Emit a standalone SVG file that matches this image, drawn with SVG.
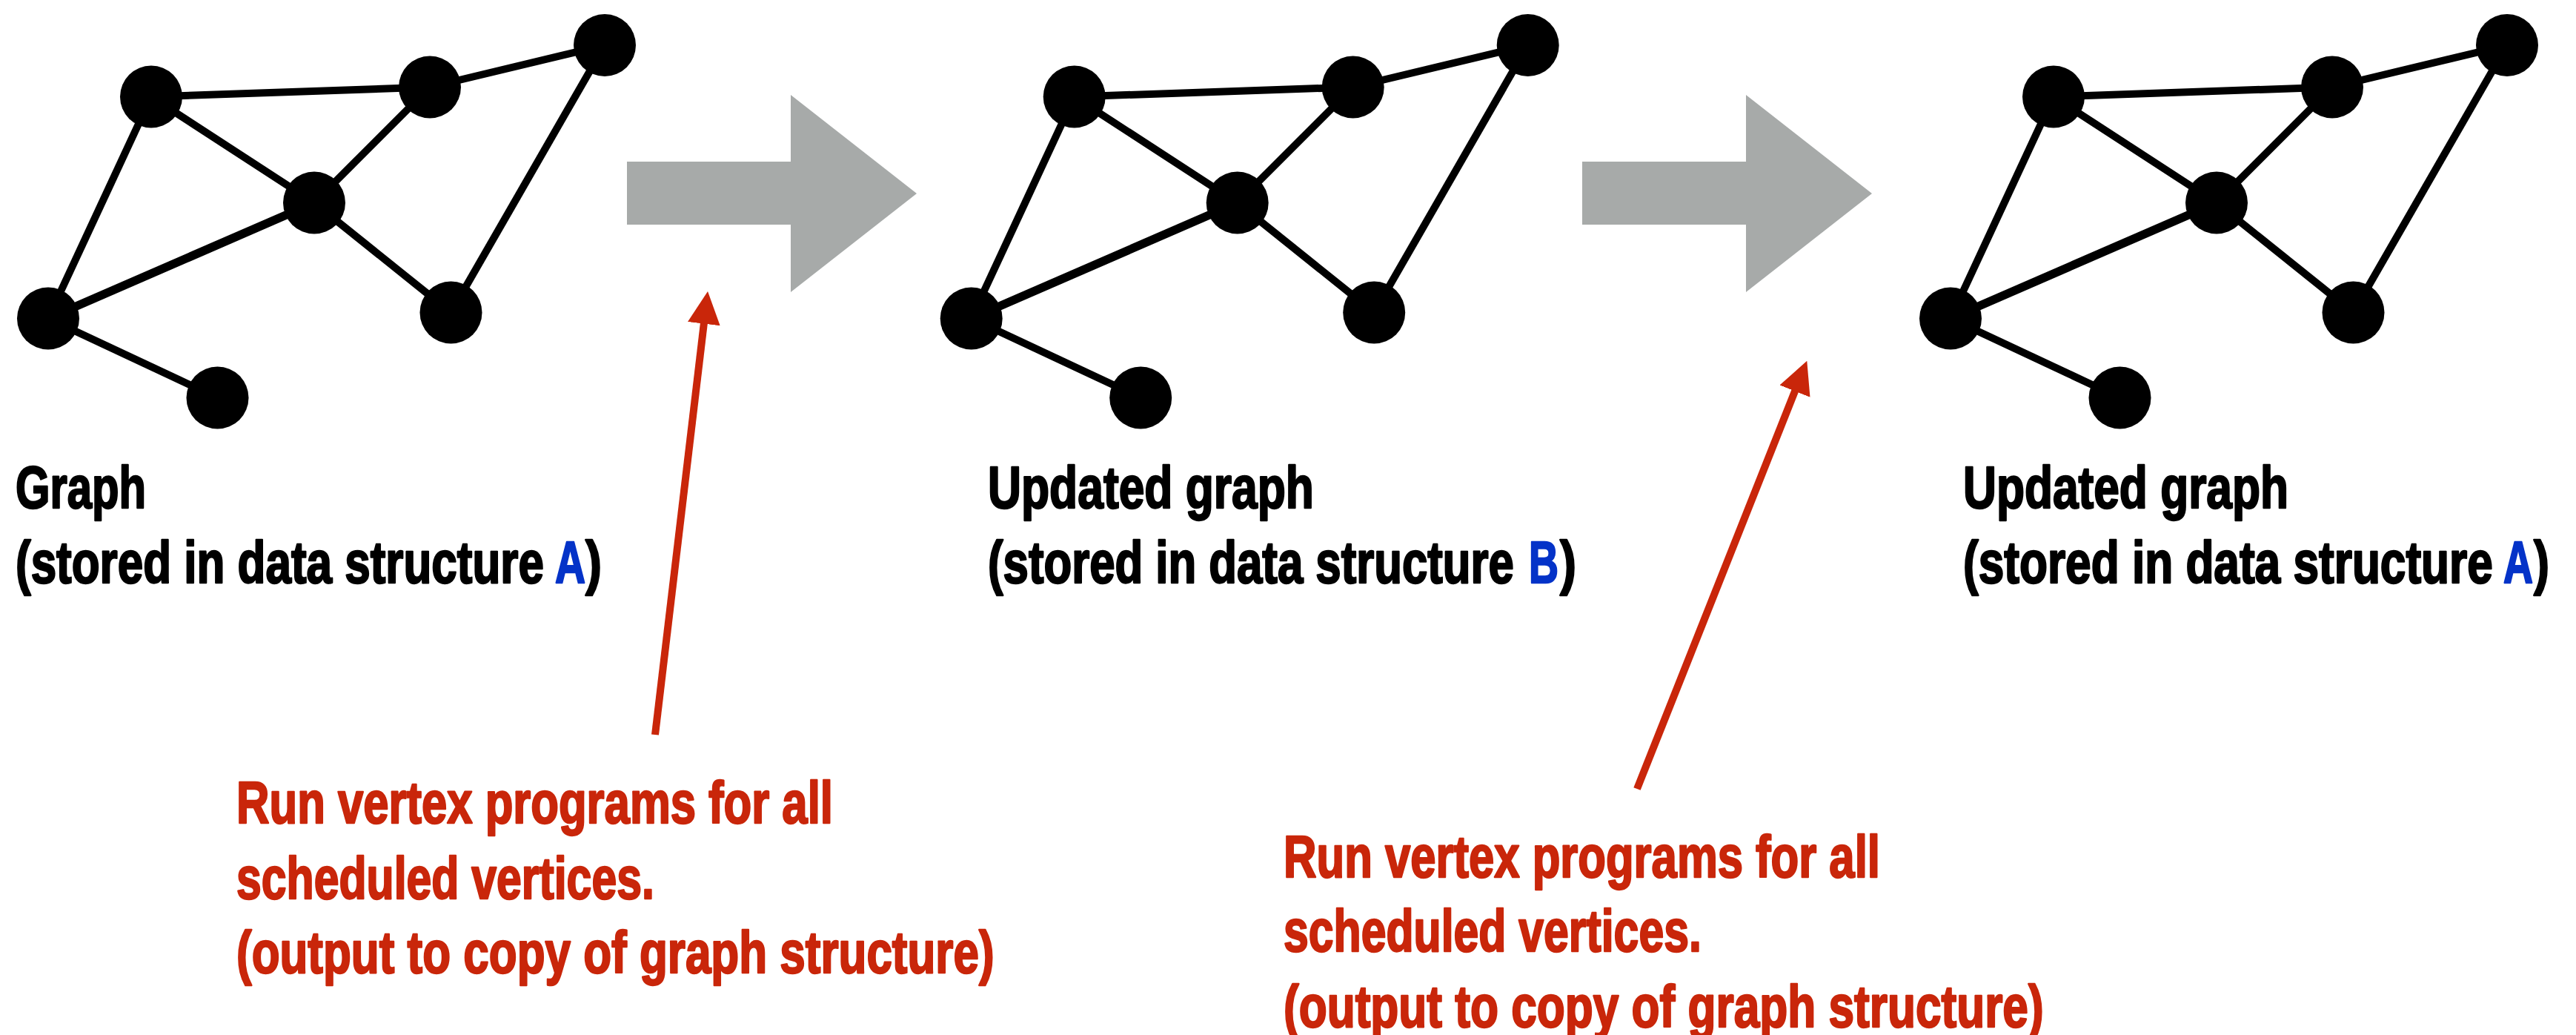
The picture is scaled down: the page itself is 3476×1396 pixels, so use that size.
<svg xmlns="http://www.w3.org/2000/svg" width="3476" height="1396" viewBox="0 0 3476 1396">
<defs>
<style>
.edge{stroke:#000;stroke-width:10;fill:none}
.edge.thick{stroke-width:11.5}
.v{fill:#000}
.gray{fill:#a7aaa9}
.lbl{font-family:"Liberation Sans",Arial,sans-serif;font-weight:bold;font-size:80px;fill:#000;stroke:#000;stroke-width:2.5;stroke-linejoin:round}
.note{font-family:"Liberation Sans",Arial,sans-serif;font-weight:bold;font-size:80px;fill:#c9260a;stroke:#c9260a;stroke-width:2.5;stroke-linejoin:round}
.lbl.blue{fill:#0433c8;stroke:#0433c8}
.red{stroke:#c9260a;stroke-width:10;fill:none}
</style>
<marker id="redhead" markerUnits="userSpaceOnUse" markerWidth="44" markerHeight="44" refX="4" refY="22" orient="auto" viewBox="0 0 44 44">
<path d="M0,0 L44,22 L0,44 Z" fill="#c9260a"/>
</marker>
</defs>
<rect width="3476" height="1396" fill="#fff"/>

<g id="connectors">
  <g id="edges-graph1">
    <line class="edge" x1="204" y1="130.5" x2="580" y2="117.5"/>
    <line class="edge" x1="580" y1="117.5" x2="816" y2="61"/>
    <line class="edge" x1="204" y1="130.5" x2="424" y2="273.5"/>
    <line class="edge" x1="580" y1="117.5" x2="424" y2="273.5"/>
    <line class="edge" x1="204" y1="130.5" x2="65" y2="429.5"/>
    <line class="edge thick" x1="424" y1="273.5" x2="65" y2="429.5"/>
    <line class="edge" x1="424" y1="273.5" x2="608.5" y2="421.5"/>
    <line class="edge" x1="816" y1="61" x2="608.5" y2="421.5"/>
    <line class="edge" x1="65" y1="429.5" x2="293.5" y2="536.5"/>
  </g>
  <g id="edges-graph2" transform="translate(1245.7,0)">
    <line class="edge" x1="204" y1="130.5" x2="580" y2="117.5"/>
    <line class="edge" x1="580" y1="117.5" x2="816" y2="61"/>
    <line class="edge" x1="204" y1="130.5" x2="424" y2="273.5"/>
    <line class="edge" x1="580" y1="117.5" x2="424" y2="273.5"/>
    <line class="edge" x1="204" y1="130.5" x2="65" y2="429.5"/>
    <line class="edge thick" x1="424" y1="273.5" x2="65" y2="429.5"/>
    <line class="edge" x1="424" y1="273.5" x2="608.5" y2="421.5"/>
    <line class="edge" x1="816" y1="61" x2="608.5" y2="421.5"/>
    <line class="edge" x1="65" y1="429.5" x2="293.5" y2="536.5"/>
  </g>
  <g id="edges-graph3" transform="translate(2567,0)">
    <line class="edge" x1="204" y1="130.5" x2="580" y2="117.5"/>
    <line class="edge" x1="580" y1="117.5" x2="816" y2="61"/>
    <line class="edge" x1="204" y1="130.5" x2="424" y2="273.5"/>
    <line class="edge" x1="580" y1="117.5" x2="424" y2="273.5"/>
    <line class="edge" x1="204" y1="130.5" x2="65" y2="429.5"/>
    <line class="edge thick" x1="424" y1="273.5" x2="65" y2="429.5"/>
    <line class="edge" x1="424" y1="273.5" x2="608.5" y2="421.5"/>
    <line class="edge" x1="816" y1="61" x2="608.5" y2="421.5"/>
    <line class="edge" x1="65" y1="429.5" x2="293.5" y2="536.5"/>
  </g>
  <g id="step-arrows">
    <path id="step1" class="gray" d="M846,218 L1067,218 L1067,128 L1237,261 L1067,394 L1067,303 L846,303 Z"/>
    <path id="step2" class="gray" d="M2135,218 L2356,218 L2356,128 L2526,261 L2356,394 L2356,303 L2135,303 Z"/>
  </g>
  <g id="callouts">
    <line class="red" x1="884" y1="991" x2="950.3" y2="432.7" marker-end="url(#redhead)"/>
    <line class="red" x1="2209" y1="1064" x2="2423.5" y2="523.9" marker-end="url(#redhead)"/>
  </g>
</g>

<g id="graph1">
  <g id="g1-a"><circle class="v" cx="204" cy="130.5" r="42"/></g>
  <g id="g1-b"><circle class="v" cx="580" cy="117.5" r="42"/></g>
  <g id="g1-c"><circle class="v" cx="816" cy="61" r="42"/></g>
  <g id="g1-d"><circle class="v" cx="424" cy="273.5" r="42"/></g>
  <g id="g1-e"><circle class="v" cx="65" cy="429.5" r="42"/></g>
  <g id="g1-f"><circle class="v" cx="608.5" cy="421.5" r="42"/></g>
  <g id="g1-g"><circle class="v" cx="293.5" cy="536.5" r="42"/></g>
</g>
<g id="graph2" transform="translate(1245.7,0)">
  <g id="g2-a"><circle class="v" cx="204" cy="130.5" r="42"/></g>
  <g id="g2-b"><circle class="v" cx="580" cy="117.5" r="42"/></g>
  <g id="g2-c"><circle class="v" cx="816" cy="61" r="42"/></g>
  <g id="g2-d"><circle class="v" cx="424" cy="273.5" r="42"/></g>
  <g id="g2-e"><circle class="v" cx="65" cy="429.5" r="42"/></g>
  <g id="g2-f"><circle class="v" cx="608.5" cy="421.5" r="42"/></g>
  <g id="g2-g"><circle class="v" cx="293.5" cy="536.5" r="42"/></g>
</g>
<g id="graph3" transform="translate(2567,0)">
  <g id="g3-a"><circle class="v" cx="204" cy="130.5" r="42"/></g>
  <g id="g3-b"><circle class="v" cx="580" cy="117.5" r="42"/></g>
  <g id="g3-c"><circle class="v" cx="816" cy="61" r="42"/></g>
  <g id="g3-d"><circle class="v" cx="424" cy="273.5" r="42"/></g>
  <g id="g3-e"><circle class="v" cx="65" cy="429.5" r="42"/></g>
  <g id="g3-f"><circle class="v" cx="608.5" cy="421.5" r="42"/></g>
  <g id="g3-g"><circle class="v" cx="293.5" cy="536.5" r="42"/></g>
</g>

<g id="label1">
  <text class="lbl" transform="translate(21,685) scale(0.747,1)">Graph</text>
  <text class="lbl" transform="translate(21,786) scale(0.775,1)">(stored in data structure</text>
  <text class="lbl blue" transform="translate(749,786) scale(0.71,1)">A</text>
  <text class="lbl" transform="translate(790,786) scale(0.826,1)">)</text>
</g>
<g id="label2">
  <text class="lbl" transform="translate(1333,685) scale(0.7795,1)">Updated graph</text>
  <text class="lbl" transform="translate(1333,786) scale(0.7716,1)">(stored in data structure</text>
  <text class="lbl blue" transform="translate(2063,786) scale(0.6925,1)">B</text>
  <text class="lbl" transform="translate(2105,786) scale(0.826,1)">)</text>
</g>
<g id="label3">
  <text class="lbl" transform="translate(2649,685) scale(0.7777,1)">Updated graph</text>
  <text class="lbl" transform="translate(2649,786) scale(0.777,1)">(stored in data structure</text>
  <text class="lbl blue" transform="translate(3378,786) scale(0.6925,1)">A</text>
  <text class="lbl" transform="translate(3419,786) scale(0.788,1)">)</text>
</g>

<g id="note1">
  <text class="note" transform="translate(319,1110) scale(0.7705,1)">Run vertex programs for all</text>
  <text class="note" transform="translate(319,1212) scale(0.7595,1)">scheduled vertices.</text>
  <text class="note" transform="translate(319,1312) scale(0.775,1)">(output to copy of graph structure)</text>
</g>
<g id="note2">
  <text class="note" transform="translate(1732,1183) scale(0.7705,1)">Run vertex programs for all</text>
  <text class="note" transform="translate(1732,1283) scale(0.7595,1)">scheduled vertices.</text>
  <text class="note" transform="translate(1732,1385) scale(0.7773,1)">(output to copy of graph structure)</text>
</g>
</svg>
